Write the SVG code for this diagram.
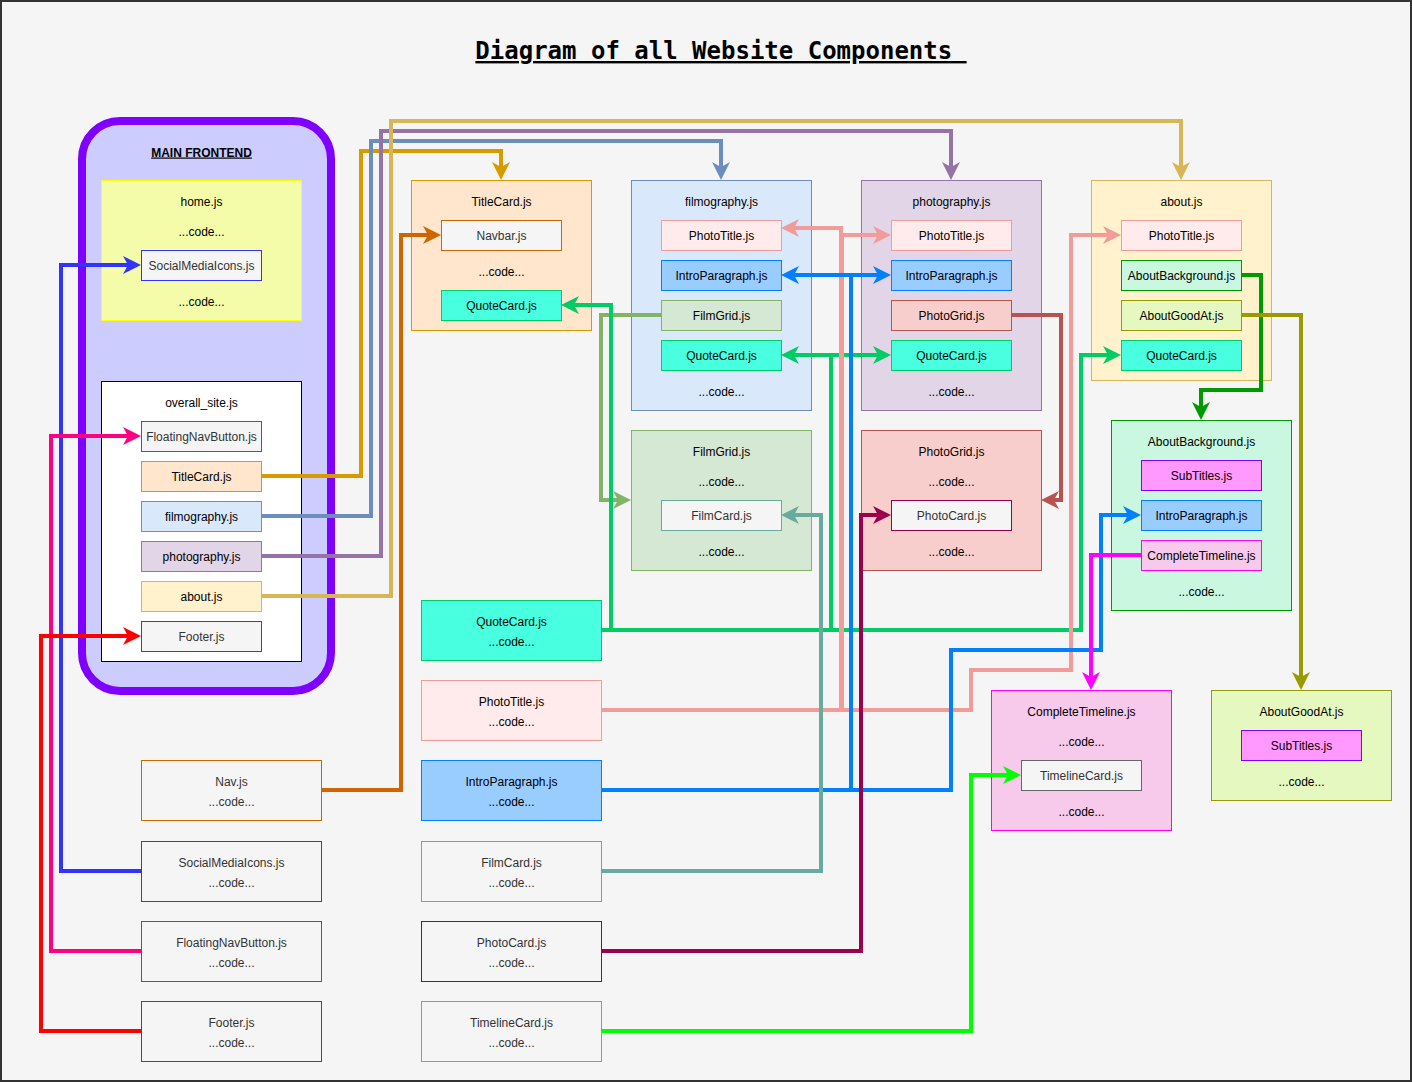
<svg xmlns="http://www.w3.org/2000/svg" width="1412" height="1082" viewBox="0 0 1412 1082">
<style>
.t{font-family:"Liberation Sans",Arial,Helvetica,sans-serif;font-size:12px;text-anchor:middle;fill:#000}
.g{fill:#333333}
.b{stroke-width:1}
.e{fill:none;stroke-width:4;stroke-linejoin:miter;stroke-linecap:butt}
.title{font-family:"DejaVu Sans Mono","Liberation Mono",monospace;font-size:24px;font-weight:bold;text-anchor:middle;text-decoration:underline;fill:#000}
.mf{font-weight:bold;text-decoration:underline}
</style>
<defs>
<marker id="m-d79b00" viewBox="0 -10 20 20" markerUnits="userSpaceOnUse" markerWidth="20" markerHeight="20" refX="5" refY="0" orient="auto"><path d="M0,-9 L18,0 L0,9 L5,0 Z" fill="#d79b00"/></marker>
<marker id="m-6c8ebf" viewBox="0 -10 20 20" markerUnits="userSpaceOnUse" markerWidth="20" markerHeight="20" refX="5" refY="0" orient="auto"><path d="M0,-9 L18,0 L0,9 L5,0 Z" fill="#6c8ebf"/></marker>
<marker id="m-9673a6" viewBox="0 -10 20 20" markerUnits="userSpaceOnUse" markerWidth="20" markerHeight="20" refX="5" refY="0" orient="auto"><path d="M0,-9 L18,0 L0,9 L5,0 Z" fill="#9673a6"/></marker>
<marker id="m-d6b656" viewBox="0 -10 20 20" markerUnits="userSpaceOnUse" markerWidth="20" markerHeight="20" refX="5" refY="0" orient="auto"><path d="M0,-9 L18,0 L0,9 L5,0 Z" fill="#d6b656"/></marker>
<marker id="m-cc6600" viewBox="0 -10 20 20" markerUnits="userSpaceOnUse" markerWidth="20" markerHeight="20" refX="5" refY="0" orient="auto"><path d="M0,-9 L18,0 L0,9 L5,0 Z" fill="#cc6600"/></marker>
<marker id="m-3333ff" viewBox="0 -10 20 20" markerUnits="userSpaceOnUse" markerWidth="20" markerHeight="20" refX="5" refY="0" orient="auto"><path d="M0,-9 L18,0 L0,9 L5,0 Z" fill="#3333ff"/></marker>
<marker id="m-ff0080" viewBox="0 -10 20 20" markerUnits="userSpaceOnUse" markerWidth="20" markerHeight="20" refX="5" refY="0" orient="auto"><path d="M0,-9 L18,0 L0,9 L5,0 Z" fill="#ff0080"/></marker>
<marker id="m-ff0000" viewBox="0 -10 20 20" markerUnits="userSpaceOnUse" markerWidth="20" markerHeight="20" refX="5" refY="0" orient="auto"><path d="M0,-9 L18,0 L0,9 L5,0 Z" fill="#ff0000"/></marker>
<marker id="m-00cc66" viewBox="0 -10 20 20" markerUnits="userSpaceOnUse" markerWidth="20" markerHeight="20" refX="5" refY="0" orient="auto"><path d="M0,-9 L18,0 L0,9 L5,0 Z" fill="#00cc66"/></marker>
<marker id="m-f19c99" viewBox="0 -10 20 20" markerUnits="userSpaceOnUse" markerWidth="20" markerHeight="20" refX="5" refY="0" orient="auto"><path d="M0,-9 L18,0 L0,9 L5,0 Z" fill="#f19c99"/></marker>
<marker id="m-007fff" viewBox="0 -10 20 20" markerUnits="userSpaceOnUse" markerWidth="20" markerHeight="20" refX="5" refY="0" orient="auto"><path d="M0,-9 L18,0 L0,9 L5,0 Z" fill="#007fff"/></marker>
<marker id="m-67ab9f" viewBox="0 -10 20 20" markerUnits="userSpaceOnUse" markerWidth="20" markerHeight="20" refX="5" refY="0" orient="auto"><path d="M0,-9 L18,0 L0,9 L5,0 Z" fill="#67ab9f"/></marker>
<marker id="m-99004d" viewBox="0 -10 20 20" markerUnits="userSpaceOnUse" markerWidth="20" markerHeight="20" refX="5" refY="0" orient="auto"><path d="M0,-9 L18,0 L0,9 L5,0 Z" fill="#99004d"/></marker>
<marker id="m-00ff00" viewBox="0 -10 20 20" markerUnits="userSpaceOnUse" markerWidth="20" markerHeight="20" refX="5" refY="0" orient="auto"><path d="M0,-9 L18,0 L0,9 L5,0 Z" fill="#00ff00"/></marker>
<marker id="m-82b366" viewBox="0 -10 20 20" markerUnits="userSpaceOnUse" markerWidth="20" markerHeight="20" refX="5" refY="0" orient="auto"><path d="M0,-9 L18,0 L0,9 L5,0 Z" fill="#82b366"/></marker>
<marker id="m-b85450" viewBox="0 -10 20 20" markerUnits="userSpaceOnUse" markerWidth="20" markerHeight="20" refX="5" refY="0" orient="auto"><path d="M0,-9 L18,0 L0,9 L5,0 Z" fill="#b85450"/></marker>
<marker id="m-009900" viewBox="0 -10 20 20" markerUnits="userSpaceOnUse" markerWidth="20" markerHeight="20" refX="5" refY="0" orient="auto"><path d="M0,-9 L18,0 L0,9 L5,0 Z" fill="#009900"/></marker>
<marker id="m-999900" viewBox="0 -10 20 20" markerUnits="userSpaceOnUse" markerWidth="20" markerHeight="20" refX="5" refY="0" orient="auto"><path d="M0,-9 L18,0 L0,9 L5,0 Z" fill="#999900"/></marker>
<marker id="m-ff00ff" viewBox="0 -10 20 20" markerUnits="userSpaceOnUse" markerWidth="20" markerHeight="20" refX="5" refY="0" orient="auto"><path d="M0,-9 L18,0 L0,9 L5,0 Z" fill="#ff00ff"/></marker>
</defs>

<rect x="1" y="1" width="1410" height="1080" fill="#f5f5f5" stroke="#333333" stroke-width="2"/>

<g id="title">
<text class="title" x="721" y="59" xml:space="preserve">Diagram of all Website Components </text>
</g>

<g id="nodes" transform="translate(0.5 0.5)">
<g id="main-frontend">
<rect x="81.5" y="120.5" width="249" height="570" rx="38" fill="#ccccff" stroke="#7f00ff" stroke-width="8"/>
<text class="t mf" x="201" y="156">MAIN FRONTEND</text>
</g>

<g id="home">
<rect x="101" y="180" width="200" height="140" fill="#f4fcaa" stroke="#ffff00"/>
<text class="t" x="201" y="205">home.js</text>
<text class="t" x="201" y="235">...code...</text>
<text class="t" x="201" y="305">...code...</text>
</g>
<g id="home-socialmediaicons">
<rect x="141" y="250" width="120" height="30" fill="#f5f5f5" stroke="#3333ff"/>
<text class="t g" x="201" y="269">SocialMediaIcons.js</text>
</g>

<g id="overall-site">
<rect x="101" y="381" width="200" height="280" fill="#ffffff" stroke="#000000"/>
<text class="t" x="201" y="406">overall_site.js</text>
</g>
<g id="overall-floatingnavbutton">
<rect x="141" y="421" width="120" height="30" fill="#f5f5f5" stroke="#ff0080"/>
<text class="t g" x="201" y="440">FloatingNavButton.js</text>
</g>
<g id="overall-titlecard">
<rect x="141" y="461" width="120" height="30" fill="#ffe6cc" stroke="#d79b00"/>
<text class="t" x="201" y="480">TitleCard.js</text>
</g>
<g id="overall-filmography">
<rect x="141" y="501" width="120" height="30" fill="#dae8fc" stroke="#6c8ebf"/>
<text class="t" x="201" y="520">filmography.js</text>
</g>
<g id="overall-photography">
<rect x="141" y="541" width="120" height="30" fill="#e1d5e7" stroke="#9673a6"/>
<text class="t" x="201" y="560">photography.js</text>
</g>
<g id="overall-about">
<rect x="141" y="581" width="120" height="30" fill="#fff2cc" stroke="#d6b656"/>
<text class="t" x="201" y="600">about.js</text>
</g>
<g id="overall-footer">
<rect x="141" y="621" width="120" height="30" fill="#f5f5f5" stroke="#ff0000"/>
<text class="t g" x="201" y="640">Footer.js</text>
</g>

<g id="titlecard">
<rect x="411" y="180" width="180" height="150" fill="#ffe6cc" stroke="#d79b00"/>
<text class="t" x="501" y="205">TitleCard.js</text>
<text class="t" x="501" y="275">...code...</text>
</g>
<g id="titlecard-navbar">
<rect x="441" y="220" width="120" height="30" fill="#f5f5f5" stroke="#cc6600"/>
<text class="t g" x="501" y="239">Navbar.js</text>
</g>
<g id="titlecard-quotecard">
<rect x="441" y="290" width="120" height="30" fill="#48ffdf" stroke="#00cc66"/>
<text class="t" x="501" y="309">QuoteCard.js</text>
</g>

<g id="filmography">
<rect x="631" y="180" width="180" height="230" fill="#dae8fc" stroke="#6c8ebf"/>
<text class="t" x="721" y="205">filmography.js</text>
<text class="t" x="721" y="395">...code...</text>
</g>
<g id="filmography-phototitle">
<rect x="661" y="220" width="120" height="30" fill="#ffebeb" stroke="#f19c99"/>
<text class="t" x="721" y="239">PhotoTitle.js</text>
</g>
<g id="filmography-introparagraph">
<rect x="661" y="260" width="120" height="30" fill="#99ccff" stroke="#007fff"/>
<text class="t" x="721" y="279">IntroParagraph.js</text>
</g>
<g id="filmography-filmgrid">
<rect x="661" y="300" width="120" height="30" fill="#d5e8d4" stroke="#82b366"/>
<text class="t" x="721" y="319">FilmGrid.js</text>
</g>
<g id="filmography-quotecard">
<rect x="661" y="340" width="120" height="30" fill="#48ffdf" stroke="#00cc66"/>
<text class="t" x="721" y="359">QuoteCard.js</text>
</g>

<g id="photography">
<rect x="861" y="180" width="180" height="230" fill="#e1d5e7" stroke="#9673a6"/>
<text class="t" x="951" y="205">photography.js</text>
<text class="t" x="951" y="395">...code...</text>
</g>
<g id="photography-phototitle">
<rect x="891" y="220" width="120" height="30" fill="#ffebeb" stroke="#f19c99"/>
<text class="t" x="951" y="239">PhotoTitle.js</text>
</g>
<g id="photography-introparagraph">
<rect x="891" y="260" width="120" height="30" fill="#99ccff" stroke="#007fff"/>
<text class="t" x="951" y="279">IntroParagraph.js</text>
</g>
<g id="photography-photogrid">
<rect x="891" y="300" width="120" height="30" fill="#f8cecc" stroke="#b85450"/>
<text class="t" x="951" y="319">PhotoGrid.js</text>
</g>
<g id="photography-quotecard">
<rect x="891" y="340" width="120" height="30" fill="#48ffdf" stroke="#00cc66"/>
<text class="t" x="951" y="359">QuoteCard.js</text>
</g>

<g id="about">
<rect x="1091" y="180" width="180" height="200" fill="#fff2cc" stroke="#d6b656"/>
<text class="t" x="1181" y="205">about.js</text>
</g>
<g id="about-phototitle">
<rect x="1121" y="220" width="120" height="30" fill="#ffebeb" stroke="#f19c99"/>
<text class="t" x="1181" y="239">PhotoTitle.js</text>
</g>
<g id="about-aboutbackground">
<rect x="1121" y="260" width="120" height="30" fill="#c9f7e0" stroke="#009900"/>
<text class="t" x="1181" y="279">AboutBackground.js</text>
</g>
<g id="about-aboutgoodat">
<rect x="1121" y="300" width="120" height="30" fill="#e5f8c0" stroke="#999900"/>
<text class="t" x="1181" y="319">AboutGoodAt.js</text>
</g>
<g id="about-quotecard">
<rect x="1121" y="340" width="120" height="30" fill="#48ffdf" stroke="#00cc66"/>
<text class="t" x="1181" y="359">QuoteCard.js</text>
</g>

<g id="filmgrid">
<rect x="631" y="430" width="180" height="140" fill="#d5e8d4" stroke="#82b366"/>
<text class="t" x="721" y="455">FilmGrid.js</text>
<text class="t" x="721" y="485">...code...</text>
<text class="t" x="721" y="555">...code...</text>
</g>
<g id="filmgrid-filmcard">
<rect x="661" y="500" width="120" height="30" fill="#f5f5f5" stroke="#67ab9f"/>
<text class="t g" x="721" y="519">FilmCard.js</text>
</g>

<g id="photogrid">
<rect x="861" y="430" width="180" height="140" fill="#f8cecc" stroke="#b85450"/>
<text class="t" x="951" y="455">PhotoGrid.js</text>
<text class="t" x="951" y="485">...code...</text>
<text class="t" x="951" y="555">...code...</text>
</g>
<g id="photogrid-photocard">
<rect x="891" y="500" width="120" height="30" fill="#f5f5f5" stroke="#99004d"/>
<text class="t g" x="951" y="519">PhotoCard.js</text>
</g>

<g id="aboutbackground">
<rect x="1111" y="420" width="180" height="190" fill="#c9f7e0" stroke="#009900"/>
<text class="t" x="1201" y="445">AboutBackground.js</text>
<text class="t" x="1201" y="595">...code...</text>
</g>
<g id="aboutbackground-subtitles">
<rect x="1141" y="460" width="120" height="30" fill="#ff99ff" stroke="#7f00ff"/>
<text class="t" x="1201" y="479">SubTitles.js</text>
</g>
<g id="aboutbackground-introparagraph">
<rect x="1141" y="500" width="120" height="30" fill="#99ccff" stroke="#007fff"/>
<text class="t" x="1201" y="519">IntroParagraph.js</text>
</g>
<g id="aboutbackground-completetimeline">
<rect x="1141" y="540" width="120" height="30" fill="#f7c9ea" stroke="#ff00ff"/>
<text class="t" x="1201" y="559">CompleteTimeline.js</text>
</g>

<g id="completetimeline">
<rect x="991" y="690" width="180" height="140" fill="#f7c9ea" stroke="#ff00ff"/>
<text class="t" x="1081" y="715">CompleteTimeline.js</text>
<text class="t" x="1081" y="745">...code...</text>
<text class="t" x="1081" y="815">...code...</text>
</g>
<g id="completetimeline-timelinecard">
<rect x="1021" y="760" width="120" height="30" fill="#f5f5f5" stroke="#666666"/>
<text class="t g" x="1081" y="779">TimelineCard.js</text>
</g>

<g id="aboutgoodat">
<rect x="1211" y="690" width="180" height="110" fill="#e5f8c0" stroke="#999900"/>
<text class="t" x="1301" y="715">AboutGoodAt.js</text>
<text class="t" x="1301" y="785">...code...</text>
</g>
<g id="aboutgoodat-subtitles">
<rect x="1241" y="730" width="120" height="30" fill="#ff99ff" stroke="#7f00ff"/>
<text class="t" x="1301" y="749">SubTitles.js</text>
</g>

<g id="nav">
<rect x="141" y="760" width="180" height="60" fill="#f5f5f5" stroke="#cc6600"/>
<text class="t g" x="231" y="785">Nav.js</text>
<text class="t g" x="231" y="805">...code...</text>
</g>
<g id="socialmediaicons">
<rect x="141" y="841" width="180" height="60" fill="#f5f5f5" stroke="#3333ff"/>
<text class="t g" x="231" y="866">SocialMediaIcons.js</text>
<text class="t g" x="231" y="886">...code...</text>
</g>
<g id="floatingnavbutton">
<rect x="141" y="921" width="180" height="60" fill="#f5f5f5" stroke="#ff0080"/>
<text class="t g" x="231" y="946">FloatingNavButton.js</text>
<text class="t g" x="231" y="966">...code...</text>
</g>
<g id="footer">
<rect x="141" y="1001" width="180" height="60" fill="#f5f5f5" stroke="#ff0000"/>
<text class="t g" x="231" y="1026">Footer.js</text>
<text class="t g" x="231" y="1046">...code...</text>
</g>

<g id="quotecard">
<rect x="421" y="600" width="180" height="60" fill="#48ffdf" stroke="#00cc66"/>
<text class="t" x="511" y="625">QuoteCard.js</text>
<text class="t" x="511" y="645">...code...</text>
</g>
<g id="phototitle">
<rect x="421" y="680" width="180" height="60" fill="#ffebeb" stroke="#f19c99"/>
<text class="t" x="511" y="705">PhotoTitle.js</text>
<text class="t" x="511" y="725">...code...</text>
</g>
<g id="introparagraph">
<rect x="421" y="760" width="180" height="60" fill="#99ccff" stroke="#007fff"/>
<text class="t" x="511" y="785">IntroParagraph.js</text>
<text class="t" x="511" y="805">...code...</text>
</g>
<g id="filmcard">
<rect x="421" y="841" width="180" height="60" fill="#f5f5f5" stroke="#67ab9f"/>
<text class="t g" x="511" y="866">FilmCard.js</text>
<text class="t g" x="511" y="886">...code...</text>
</g>
<g id="photocard">
<rect x="421" y="921" width="180" height="60" fill="#f5f5f5" stroke="#99004d"/>
<text class="t g" x="511" y="946">PhotoCard.js</text>
<text class="t g" x="511" y="966">...code...</text>
</g>
<g id="timelinecard">
<rect x="421" y="1001" width="180" height="60" fill="#f5f5f5" stroke="#00ff00"/>
<text class="t g" x="511" y="1026">TimelineCard.js</text>
<text class="t g" x="511" y="1046">...code...</text>
</g>
</g>

<g id="connectors">
<path class="e" stroke="#d79b00" marker-end="url(#m-d79b00)" d="M261,476 H361 V151 H501 V167"/>
<path class="e" stroke="#6c8ebf" marker-end="url(#m-6c8ebf)" d="M261,516 H371 V141 H721 V167"/>
<path class="e" stroke="#9673a6" marker-end="url(#m-9673a6)" d="M261,556 H381 V131 H951 V167"/>
<path class="e" stroke="#d6b656" marker-end="url(#m-d6b656)" d="M261,596 H391 V121 H1181 V167"/>
<path class="e" stroke="#cc6600" marker-end="url(#m-cc6600)" d="M321,790 H401 V235 H428"/>
<path class="e" stroke="#3333ff" marker-end="url(#m-3333ff)" d="M141,871 H61 V265 H128"/>
<path class="e" stroke="#ff0080" marker-end="url(#m-ff0080)" d="M141,951 H51 V436 H128"/>
<path class="e" stroke="#ff0000" marker-end="url(#m-ff0000)" d="M141,1031 H41 V636 H128"/>
<path class="e" stroke="#82b366" marker-end="url(#m-82b366)" d="M661,315 H601 V500 H618"/>
<path class="e" stroke="#b85450" marker-end="url(#m-b85450)" d="M1011,315 H1061 V500 H1054"/>
<path class="e" stroke="#009900" marker-end="url(#m-009900)" d="M1241,275 H1261 V390 H1201 V407"/>
<path class="e" stroke="#999900" marker-end="url(#m-999900)" d="M1241,315 H1301 V677"/>
<path class="e" stroke="#00cc66" marker-end="url(#m-00cc66)" d="M601,630 H611 V305 H574"/>
<path class="e" stroke="#00cc66" marker-end="url(#m-00cc66)" d="M601,630 H831 V355 H794"/>
<path class="e" stroke="#00cc66" marker-end="url(#m-00cc66)" d="M601,630 H831 V355 H878"/>
<path class="e" stroke="#00cc66" marker-end="url(#m-00cc66)" d="M601,630 H1081 V355 H1108"/>
<path class="e" stroke="#f19c99" marker-end="url(#m-f19c99)" d="M601,710 H841 V228 H794"/>
<path class="e" stroke="#f19c99" marker-end="url(#m-f19c99)" d="M601,710 H842 V235 H878"/>
<path class="e" stroke="#f19c99" marker-end="url(#m-f19c99)" d="M601,710 H971 V670 H1071 V235 H1108"/>
<path class="e" stroke="#007fff" marker-end="url(#m-007fff)" d="M601,790 H851 V275 H794"/>
<path class="e" stroke="#007fff" marker-end="url(#m-007fff)" d="M601,790 H851 V275 H878"/>
<path class="e" stroke="#007fff" marker-end="url(#m-007fff)" d="M601,790 H951 V650 H1101 V515 H1128"/>
<path class="e" stroke="#67ab9f" marker-end="url(#m-67ab9f)" d="M601,871 H821 V515 H794"/>
<path class="e" stroke="#99004d" marker-end="url(#m-99004d)" d="M601,951 H861 V515 H878"/>
<path class="e" stroke="#00ff00" marker-end="url(#m-00ff00)" d="M601,1031 H971 V775 H1008"/>
<path class="e" stroke="#ff00ff" marker-end="url(#m-ff00ff)" d="M1141,555 H1091 V677"/>
</g>
</svg>
